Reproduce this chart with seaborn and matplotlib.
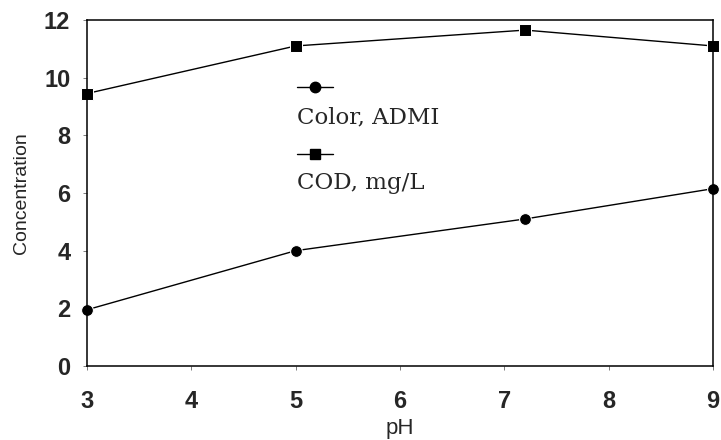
import matplotlib
matplotlib.use("Agg")
import matplotlib.pyplot as plt
from matplotlib.lines import Line2D
import seaborn as sns
import pandas as pd

# Measured data
ph_values = [3, 5, 7.2, 9]
color_admi = [1.95, 4.0, 5.1, 6.15]
cod_mgl = [9.45, 11.1, 11.65, 11.1]
series_labels = ["Color, ADMI", "COD, mg/L"]
x_ticks = [3, 4, 5, 6, 7, 8, 9]
y_ticks = [0, 2, 4, 6, 8, 10, 12]

df = pd.DataFrame({
    "pH": ph_values * 2,
    "value": color_admi + cod_mgl,
    "series": [series_labels[0]] * len(ph_values) + [series_labels[1]] * len(ph_values),
})

sns.set_theme(style="white")
plt.rcParams["font.family"] = ["Liberation Sans", "DejaVu Sans"]

fig = plt.figure(figsize=(7.21, 4.40), dpi=100)
ax = fig.add_axes([87 / 721, 1 - 366 / 440, 626 / 721, 346 / 440])

sns.lineplot(
    data=df, x="pH", y="value", hue="series", style="series",
    markers={series_labels[0]: "o", series_labels[1]: "s"},
    dashes=False, palette=["black", "black"], markersize=8.5,
    linewidth=1.0, legend=False, ax=ax, clip_on=False,
)

ax.set_xlim(3, 9)
ax.set_ylim(0, 12)
ax.set_xticks(x_ticks)
ax.set_yticks(y_ticks)
ax.set_xticklabels([str(t) for t in x_ticks], fontsize=17, fontweight="bold")
ax.set_yticklabels([str(t) for t in y_ticks], fontsize=17, fontweight="bold")
ax.tick_params(axis="x", direction="out", length=3, width=0.6, color="0.4", pad=14)
ax.tick_params(axis="y", direction="out", length=3, width=0.6, color="0.4", pad=9)
ax.tick_params(bottom=True, left=True)
ax.set_xlabel("pH", fontsize=16, labelpad=4)
ax.set_ylabel("Concentration", fontsize=14, labelpad=10)

for side in ax.spines.values():
    side.set_visible(True)
    side.set_color("black")
    side.set_linewidth(1.1)

# Stacked legend: glyph above each entry's text
legend_font = ["DejaVu Serif"]
entries = [("o", series_labels[0], 0.806, 0.718), ("s", series_labels[1], 0.613, 0.528)]
for marker, label, y_glyph, y_text in entries:
    ax.add_line(Line2D([0.335, 0.393], [y_glyph, y_glyph], transform=ax.transAxes,
                       color="black", linewidth=1.0))
    ax.add_line(Line2D([0.364], [y_glyph], transform=ax.transAxes, color="black",
                       marker=marker, markersize=7.5, linestyle="none"))
    ax.text(0.335, y_text, label, transform=ax.transAxes, fontsize=16.5,
            family=legend_font, va="center", ha="left")

fig.savefig("out.png", dpi=100)
